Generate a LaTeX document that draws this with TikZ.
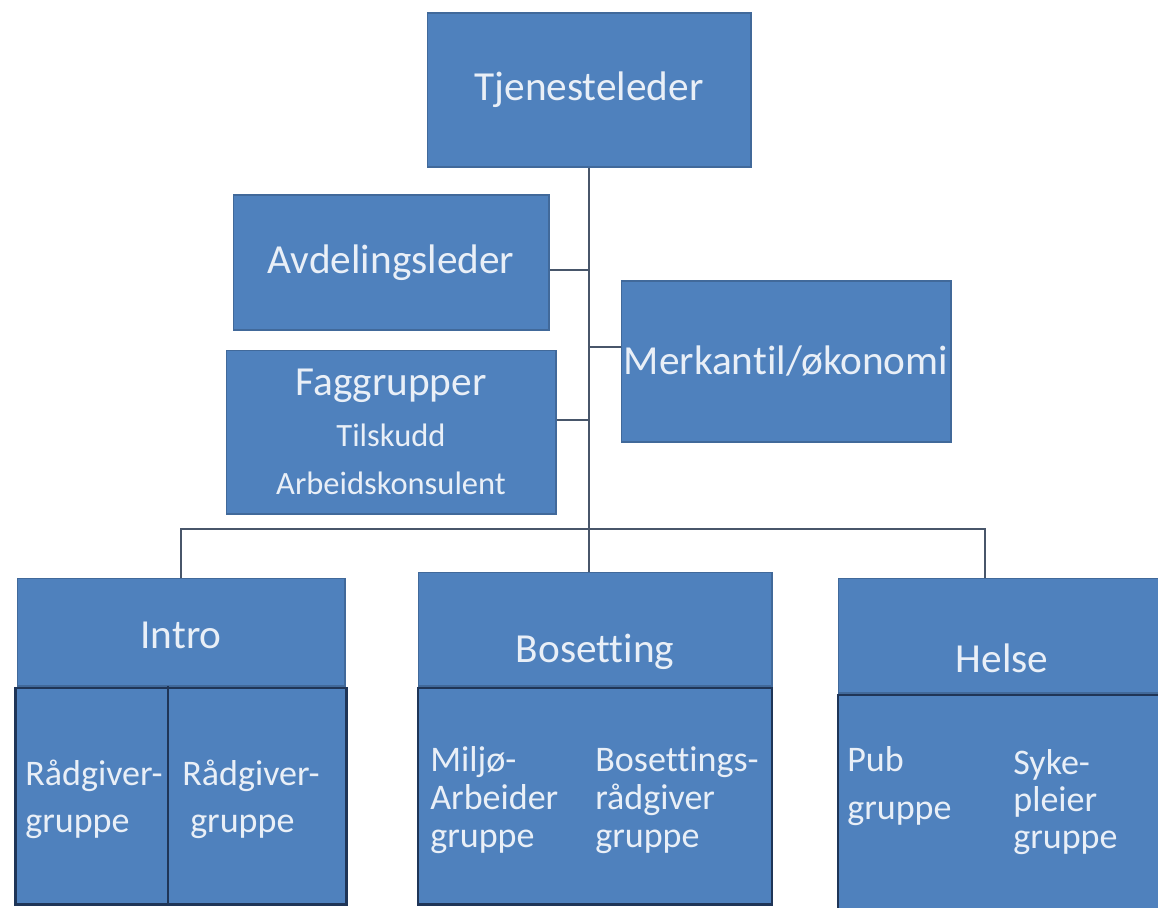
\documentclass[tikz,border=0pt]{standalone}
\usepackage{fontspec}
\setmainfont{Carlito}[Ligatures=NoCommon]
\usetikzlibrary{calc}
\definecolor{boxblue}{HTML}{4F81BD}
\definecolor{boxedge}{HTML}{41699A}
\definecolor{celledge}{HTML}{1F3557}
\definecolor{linegrey}{HTML}{48566A}
\definecolor{txt}{HTML}{E9EFF7}
\tikzset{
  box/.style={rectangle, fill=boxblue, draw=boxedge, line width=0.6pt, text=txt, inner sep=0pt},
  cell/.style={rectangle, fill=boxblue, draw=celledge, line width=1.4pt, inner sep=0pt},
  conn/.style={draw=linegrey, line width=1.1pt},
  big/.style={font=\fontsize{23.5}{28}\selectfont},
  title/.style={text=txt, inner sep=0pt, big},
  small/.style={text=txt, inner sep=0pt, anchor=north west, align=left},
}
\begin{document}
\begin{tikzpicture}[x=0.02cm, y=-0.02cm]
    \useasboundingbox (0,0) rectangle (1158,907);

    % leder
    \node[box, big, minimum width=6.48cm, minimum height=3.08cm] (tj) at (589,90) {Tjenesteleder};

    % stab
    \node[box, big, minimum width=6.32cm, minimum height=2.7cm] (avd) at (391,262.5) {Avdelingsleder};
    \node[box, minimum width=6.6cm, minimum height=3.28cm, align=center,
          font=\fontsize{18.5}{27}\selectfont] (fag) at (391,432)
          {{\fontsize{23.5}{28}\selectfont Faggrupper}\\[2pt] Tilskudd\\ Arbeidskonsulent};
    \node[box, big, minimum width=6.6cm, minimum height=3.22cm] (mer) at (786,361.5) {Merkantil/økonomi};

    % avdelinger
    \node[box, minimum width=6.56cm, minimum height=2.16cm] (intro) at (181,632) {};
    \node[title] (introtxt) at (181,635) {Intro};
    \node[cell, anchor=north, minimum width=6.62cm, minimum height=4.34cm] (introcell) at (intro.south) {};
    \draw[celledge, line width=1.4pt] (168,686) -- (168,903);

    \node[box, minimum width=7.08cm, minimum height=2.28cm] (bos) at (595,629) {};
    \node[title] (bostxt) at (595,652) {Bosetting};
    \node[cell, anchor=north, minimum width=7.08cm, minimum height=4.34cm] (boscell) at (bos.south) {};

    \node[box, minimum width=6.74cm, minimum height=2.3cm] (helse) at (1006.5,635.5) {};
    \node[title] (helsetxt) at (1002,658) {Helse};
    \node[cell, anchor=north, minimum width=6.74cm, minimum height=4.6cm] (helsecell) at (helse.south) {};

    % grupper
    \node[small, font=\fontsize{20.5}{26.6}\selectfont] (intro1) at (25,760) {Rådgiver-\\gruppe};
    \node[small, font=\fontsize{20.5}{26.6}\selectfont] (intro2) at (182,760) {Rådgiver-\\\hspace{4.5pt}gruppe};
    \node[small, font=\fontsize{20.5}{21.8}\selectfont] (bos1) at (430,746) {Miljø-\\Arbeider\\gruppe};
    \node[small, font=\fontsize{20.5}{21.8}\selectfont] (bos2) at (595,746) {Bosettings-\\rådgiver\\gruppe};
    \node[small, font=\fontsize{20.5}{27.2}\selectfont] (helse1) at (847,746) {Pub\\gruppe};
    \node[small, font=\fontsize{20.5}{21}\selectfont] (helse2) at (1013,749) {Syke-\\pleier\\gruppe};

    % linjer
    \coordinate (a1) at ($(avd.east)+(0,7.5)$);
    \coordinate (f1) at ($(fag.east)+(0,-12)$);
    \coordinate (m1) at ($(mer.west)+(0,-14.5)$);
    \coordinate (bus) at (589,529);
    \coordinate (hc) at ($(helse.north)+(-21.5,0)$);
    \draw[conn] (tj.south) -- (tj.south |- bos.north);
    \draw[conn] (a1) -- (a1 -| tj.south);
    \draw[conn] (f1) -- (f1 -| tj.south);
    \draw[conn] (m1) -- (m1 -| tj.south);
    \draw[conn] (intro.north) |- (bus) -| (hc);
\end{tikzpicture}
\end{document}
